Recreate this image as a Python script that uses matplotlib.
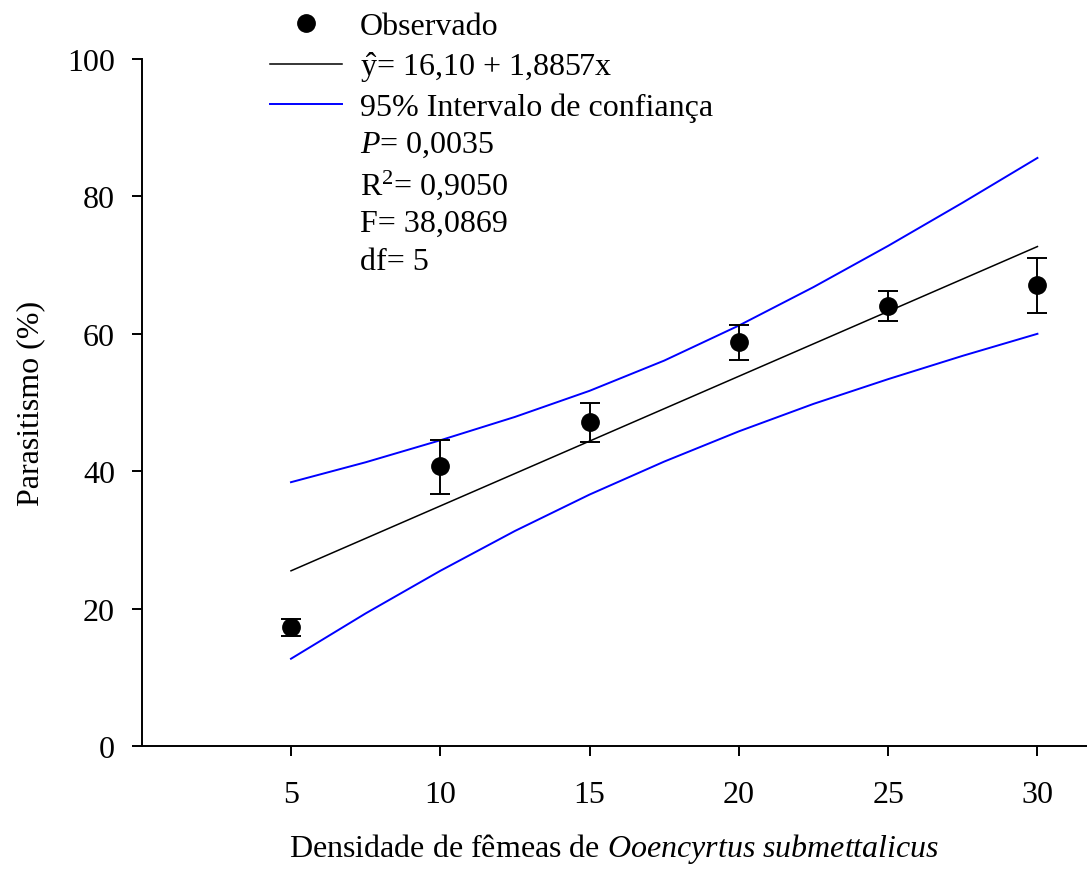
import numpy as np
import matplotlib
matplotlib.use('Agg')
import matplotlib.pyplot as plt
from matplotlib.lines import Line2D

plt.rcParams['font.family'] = ['Liberation Serif', 'DejaVu Serif']
plt.rcParams['mathtext.fontset'] = 'custom'
plt.rcParams['mathtext.rm'] = 'Liberation Serif'
plt.rcParams['mathtext.it'] = 'Liberation Serif:italic'

# observed means and error bar limits
densidade = [5, 10, 15, 20, 25, 30]
parasitismo = [17.3, 40.7, 47.2, 58.8, 64.1, 67.1]
erro_sup = [18.5, 44.5, 50.0, 61.3, 66.2, 71.1]
erro_inf = [16.0, 36.7, 44.2, 56.2, 61.8, 63.0]

# fitted line (y = 16,10 + 1,8857x), read at the ends
reg_x = [5, 30]
reg_y = [25.5, 72.7]

# 95% confidence band
ic_x = [5, 7.5, 10, 12.5, 15, 17.5, 20, 22.5, 25, 27.5, 30]
ic_sup = [38.4, 41.3, 44.5, 47.9, 51.7, 56.1, 61.2, 66.8, 72.8, 79.1, 85.6]
ic_inf = [12.7, 19.3, 25.5, 31.3, 36.6, 41.4, 45.8, 49.8, 53.4, 56.8, 60.0]

fs = 23

fig = plt.figure(figsize=(10.87, 8.70), dpi=100)
ax = fig.add_axes([141.7/1087, 1 - 747/870, 1 - 141.7/1087, 687/870])

yerr = [np.array(parasitismo) - np.array(erro_inf),
        np.array(erro_sup) - np.array(parasitismo)]
ax.errorbar(densidade, parasitismo, yerr=yerr, fmt='o', color='black',
            markersize=12.5, elinewidth=1.4, capsize=7.5, capthick=1.4,
            zorder=5)
ax.plot(reg_x, reg_y, color='black', lw=1.1)
ax.plot(ic_x, ic_sup, color='blue', lw=1.4)
ax.plot(ic_x, ic_inf, color='blue', lw=1.4)

ax.set_xlim(0, 31.66)
ax.set_ylim(0, 100)
ax.set_xticks([5, 10, 15, 20, 25, 30])
ax.set_yticks([0, 20, 40, 60, 80, 100])
ax.spines['top'].set_visible(False)
ax.spines['right'].set_visible(False)
for s in ['left', 'bottom']:
    ax.spines[s].set_linewidth(1.4)
ax.tick_params(direction='out', length=7.2, width=1.4, labelsize=fs)
ax.tick_params(axis='x', pad=17)
ax.tick_params(axis='y', pad=12)

ax.set_ylabel('Parasitismo (%)', fontsize=fs, labelpad=16)
ax.set_xlabel(r'Densidade de fêmeas de $\it{Ooencyrtus\ submettalicus}$',
              fontsize=fs, labelpad=16)

# legend with the stats lines below it
handles = [
    Line2D([], [], marker='o', color='black', linestyle='None', markersize=12.5),
    Line2D([], [], color='black', lw=1.1),
    Line2D([], [], color='blue', lw=1.4),
    Line2D([], [], linestyle='None'),
    Line2D([], [], linestyle='None'),
    Line2D([], [], linestyle='None'),
    Line2D([], [], linestyle='None'),
]
labels = [
    'Observado',
    r'$\hat{\mathrm{y}}$= 16,10 + 1,8857x',
    '95% Intervalo de confiança',
    r'$P$= 0,0035',
    r'R$^{2}$= 0,9050',
    'F= 38,0869',
    'df= 5',
]
fig.legend(handles, labels, loc='upper left',
           bbox_to_anchor=(270/1087, 1 - 13/870), frameon=False,
           fontsize=fs, handlelength=2.25, handletextpad=0.56,
           labelspacing=0.25, borderpad=0, borderaxespad=0)

fig.savefig('out.png', dpi=100)
